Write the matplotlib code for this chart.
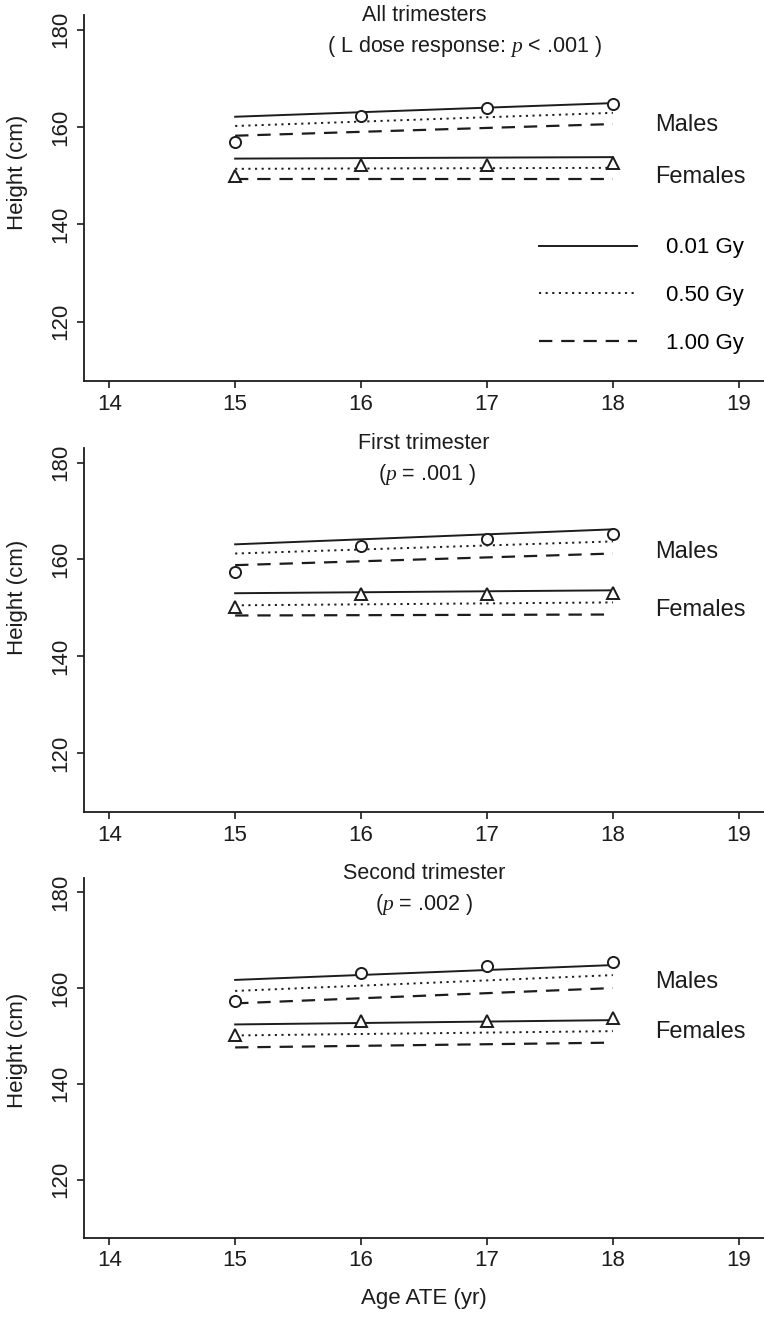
"""
Height at age 15-18 by in-utero dose, three panels (all / first / second trimester).
"""

import matplotlib
matplotlib.use('Agg')
import matplotlib.pyplot as plt
from matplotlib.lines import Line2D

plt.rcParams['font.family'] = ['Liberation Sans', 'DejaVu Sans']
plt.rcParams['mathtext.fontset'] = 'custom'
plt.rcParams['mathtext.it'] = 'Liberation Serif:italic'
plt.rcParams['mathtext.rm'] = 'Liberation Sans'

INK = '#1c1c1c'

ages = [15, 16, 17, 18]
fit_ages = [15, 18]
dose_labels = ['0.01 Gy', '0.50 Gy', '1.00 Gy']

panel_titles = ['All trimesters', 'First trimester', 'Second trimester']
panel_subtitles = ['( L dose response: $p$ < .001 )', '($p$ = .001 )', '($p$ = .002 )']

# observed means
all_males = [157.0, 162.2, 163.9, 164.7]
all_females = [150.0, 152.2, 152.2, 152.6]
first_males = [157.3, 162.7, 164.3, 165.2]
first_females = [150.1, 152.8, 152.8, 153.0]
second_males = [157.3, 163.2, 164.6, 165.5]
second_females = [150.1, 153.1, 153.1, 153.7]

# fitted lines at ages 15 and 18, rows = 0.01, 0.50, 1.00 Gy
all_males_fit = [[162.1, 164.9], [160.2, 162.9], [158.2, 160.6]]
all_females_fit = [[153.5, 153.8], [151.4, 151.6], [149.4, 149.4]]
first_males_fit = [[163.1, 166.2], [161.2, 163.7], [158.8, 161.2]]
first_females_fit = [[153.0, 153.6], [150.5, 151.1], [148.4, 148.6]]
second_males_fit = [[161.7, 164.8], [159.4, 162.7], [156.8, 160.0]]
second_females_fit = [[152.4, 153.3], [150.1, 151.0], [147.6, 148.6]]

# y positions of the Males / Females labels per panel
sex_label_y = [(160.4, 149.7), (161.5, 149.6), (161.3, 150.8)]

line_styles = [
    dict(linestyle='-', linewidth=1.4),
    dict(linestyle=(0, (1.1, 2.3)), linewidth=1.4),
    dict(linestyle=(0, (6.0, 4.0)), linewidth=1.6),
]


def draw_panel(ax, males, females, males_fit, females_fit):
    for fit, style in zip(males_fit, line_styles):
        ax.plot(fit_ages, fit, color=INK, zorder=2, **style)
    for fit, style in zip(females_fit, line_styles):
        ax.plot(fit_ages, fit, color=INK, zorder=2, **style)
    ax.plot(ages, males, 'o', ms=8, mfc='white', mec=INK, mew=1.4,
            linestyle='none', zorder=3)
    ax.plot(ages, females, '^', ms=8, mfc='white', mec=INK, mew=1.4,
            linestyle='none', zorder=3)

    ax.set_xlim(13.8, 19.2)
    ax.set_ylim(107.8, 183)
    ax.set_xticks([14, 15, 16, 17, 18, 19])
    ax.set_yticks([120, 140, 160, 180])
    for side in ('top', 'right'):
        ax.spines[side].set_visible(False)
    for side in ('left', 'bottom'):
        ax.spines[side].set_linewidth(1.3)
        ax.spines[side].set_color(INK)
    ax.tick_params(direction='out', length=5, width=1.2, colors=INK,
                   labelsize=16, pad=4)
    plt.setp(ax.get_yticklabels(), rotation=90, va='center')
    ax.set_ylabel('Height (cm)', fontsize=16, color=INK)


fig = plt.figure(figsize=(7.64, 13.29), dpi=100)
axes_boxes = [
    [0.110, 0.7133, 0.890, 0.2754],
    [0.110, 0.3890, 0.890, 0.2739],
    [0.110, 0.0685, 0.890, 0.2709],
]
panels = [
    (all_males, all_females, all_males_fit, all_females_fit),
    (first_males, first_females, first_males_fit, first_females_fit),
    (second_males, second_females, second_males_fit, second_females_fit),
]
title_y = [(1.0, 0.915), (1.013, 0.926), (1.011, 0.925)]
subtitle_x = [0.56, 0.505, 0.50]
ylabel_y = [0.57, 0.59, 0.52]

for i, (box, data) in enumerate(zip(axes_boxes, panels)):
    ax = fig.add_axes(box)
    draw_panel(ax, *data)
    ax.yaxis.set_label_coords(-0.083, ylabel_y[i])
    ax.text(0.50, title_y[i][0], panel_titles[i], transform=ax.transAxes,
            ha='center', va='center', fontsize=15.5, color=INK)
    ax.text(subtitle_x[i], title_y[i][1], panel_subtitles[i], transform=ax.transAxes,
            ha='center', va='center', fontsize=15.5, color=INK)
    ax.text(0.84, sex_label_y[i][0], 'Males', transform=ax.get_yaxis_transform(),
            ha='left', va='center', fontsize=17, color=INK)
    ax.text(0.84, sex_label_y[i][1], 'Females', transform=ax.get_yaxis_transform(),
            ha='left', va='center', fontsize=17, color=INK)

    if i == 0:
        handles = [Line2D([], [], color=INK, **style) for style in line_styles]
        ax.legend(handles, dose_labels, loc='lower right', bbox_to_anchor=(1.0, 0.02),
                  frameon=False, fontsize=16, handlelength=4.4, handletextpad=1.3,
                  labelspacing=1.2)
    if i == 2:
        ax.set_xlabel('Age ATE (yr)', fontsize=16, color=INK, labelpad=12)

fig.savefig('out.png', dpi=100)
plt.close(fig)
